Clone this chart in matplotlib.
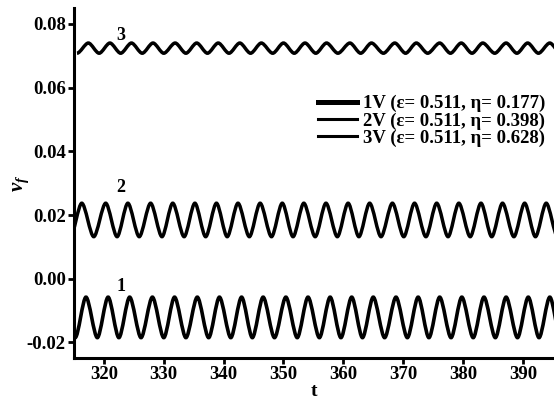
import numpy as np
import matplotlib
matplotlib.use("Agg")
import matplotlib.pyplot as plt
from matplotlib.path import Path
from matplotlib.patches import PathPatch
from matplotlib.lines import Line2D

plt.rcParams['font.family'] = ['Liberation Serif', 'DejaVu Serif']
plt.rcParams['font.weight'] = 'bold'
plt.rcParams['mathtext.fontset'] = 'custom'
plt.rcParams['mathtext.rm'] = 'Liberation Serif:bold'
plt.rcParams['mathtext.it'] = 'Liberation Serif:italic:bold'
plt.rcParams['axes.unicode_minus'] = False

# peak / trough times, one list per curve
peaks_1 = [317.0, 320.7, 324.3, 328.1, 331.8, 335.6, 339.3, 343.0, 346.6, 350.4, 354.1,
           357.8, 361.4, 365.0, 368.8, 372.5, 376.1, 379.8, 383.5, 387.2, 390.9, 394.5]
troughs_1 = [315.2, 318.9, 322.5, 326.2, 330.0, 333.7, 337.5, 341.2, 344.8, 348.5, 352.3, 356.0,
             359.6, 363.2, 366.9, 370.7, 374.3, 378.0, 381.7, 385.4, 389.1, 392.7, 396.3]
peaks_2 = [316.3, 320.3, 324.0, 327.8, 331.5, 335.2, 338.8, 342.4, 346.1, 349.8, 353.4,
           357.1, 360.8, 364.4, 368.2, 371.9, 375.6, 379.3, 383.0, 386.6, 390.3, 393.9]
troughs_2 = [314.4, 318.3, 322.2, 325.9, 329.7, 333.4, 337.0, 340.6, 344.3, 348.0, 351.6, 355.3,
             359.0, 362.6, 366.3, 370.1, 373.8, 377.5, 381.2, 384.8, 388.5, 392.1, 395.8]
peaks_3 = [317.4, 321.0, 324.6, 328.2, 331.9, 335.5, 339.1, 342.7, 346.3, 350.0, 353.6,
           357.2, 361.1, 364.7, 368.6, 372.2, 376.1, 379.7, 383.3, 387.2, 390.8, 394.5]
troughs_3 = [315.5, 319.2, 322.8, 326.4, 330.0, 333.7, 337.3, 340.9, 344.5, 348.2, 351.8, 355.4,
             359.1, 362.9, 366.7, 370.4, 374.1, 377.9, 381.5, 385.3, 389.0, 392.6, 396.3]

# upper and lower levels of each curve
high_levels = [-0.0058, 0.0237, 0.0740]
low_levels = [-0.0185, 0.0132, 0.0708]

labels = ['1V (ε= 0.511, η= 0.177)', '2V (ε= 0.511, η= 0.398)', '3V (ε= 0.511, η= 0.628)']
curve_tags = ['1', '2', '3']
tag_pos = [(322.8, -0.0026), (322.8, 0.0285), (322.8, 0.0765)]


def wave_path(peaks, troughs, hi, lo, k=0.3):
    # alternate trough, peak, trough ... and join them with smooth cubic segments
    ts, vs = [], []
    for i in range(len(troughs)):
        ts.append(troughs[i]); vs.append(lo)
        if i < len(peaks):
            ts.append(peaks[i]); vs.append(hi)
    verts = [(ts[0], vs[0])]
    codes = [Path.MOVETO]
    for i in range(1, len(ts)):
        dt = ts[i] - ts[i - 1]
        verts += [(ts[i - 1] + k * dt, vs[i - 1]), (ts[i] - k * dt, vs[i]), (ts[i], vs[i])]
        codes += [Path.CURVE4] * 3
    return Path(verts, codes)


fig = plt.figure(figsize=(5.54, 4.05), dpi=100)
ax = fig.add_axes([74 / 554, 1 - 358 / 405, 1 - 74 / 554, (358 - 8) / 405])

series = [(peaks_1, troughs_1), (peaks_2, troughs_2), (peaks_3, troughs_3)]
widths = [2.6, 2.5, 2.5]
for (pk, tr), hi, lo, lw in zip(series, high_levels, low_levels, widths):
    ax.add_patch(PathPatch(wave_path(pk, tr, hi, lo), fill=False, edgecolor='black',
                           lw=lw, capstyle='butt'))

for tag, (tx, ty) in zip(curve_tags, tag_pos):
    ax.text(tx, ty, tag, fontsize=13, fontweight='bold', ha='center', va='center')

ax.set_xlim(315, 395.2)
ax.set_ylim(-0.0249, 0.085)
ax.set_xticks([320, 330, 340, 350, 360, 370, 380, 390])
ax.set_yticks([-0.02, 0.00, 0.02, 0.04, 0.06, 0.08])
ax.set_yticklabels(['-0.02', '0.00', '0.02', '0.04', '0.06', '0.08'])

for s in ['top', 'right']:
    ax.spines[s].set_visible(False)
for s in ['left', 'bottom']:
    ax.spines[s].set_linewidth(2.2)
ax.tick_params(direction='out', length=4, width=2, labelsize=13.5, pad=2)

ax.set_xlabel('t', fontsize=14, fontweight='bold', labelpad=0)
ax.set_ylabel(r'$v_f$', fontsize=15)
ax.yaxis.set_label_coords(-0.09, 0.5)

handles = [Line2D([], [], color='black', lw=3.6),
           Line2D([], [], color='black', lw=2.2),
           Line2D([], [], color='black', lw=2.2)]
fig.legend(handles, labels, loc='upper left', bbox_to_anchor=(318 / 554, 1 - 95 / 405),
           frameon=False, fontsize=13.5, handlelength=2.1, handletextpad=0.3,
           labelspacing=0.0, borderpad=0, borderaxespad=0)

fig.savefig('out.png', dpi=100)
